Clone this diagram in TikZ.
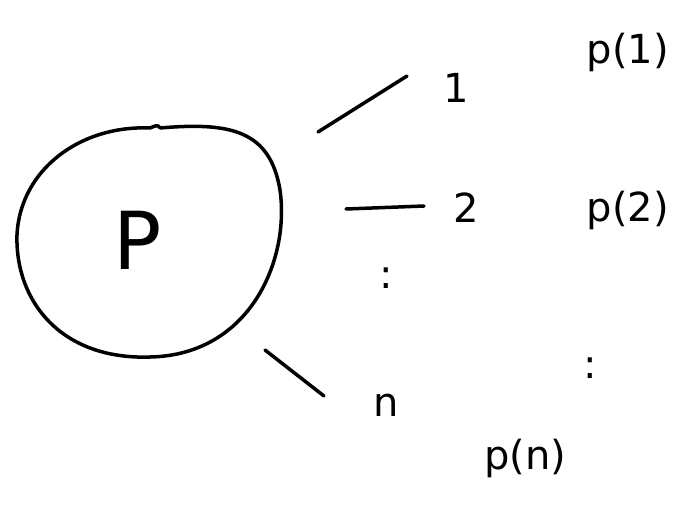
\documentclass[tikz,border=0pt]{standalone}
\usepackage{fontspec}
\setmainfont{DejaVu Sans}
\begin{document}
\begin{tikzpicture}[x=1pt,y=-1pt,
  ink/.style={line width=3.5pt,line cap=round,line join=round,black},
  lbl/.style={inner sep=0pt,font=\fontsize{40}{40}\selectfont},
  big/.style={inner sep=0pt,font=\fontsize{80}{80}\selectfont}]
\useasboundingbox (0,0) rectangle (694,509);
% blob
\draw[ink] (160,128) .. controls (230,122) and (270,130) .. (280,190)
  .. controls (290,260) and (250,355) .. (150,357)
  .. controls (60,360) and (15,300) .. (17,235)
  .. controls (20,170) and (80,125) .. (150,128)
  .. controls (155,126) and (158,124) .. (160,128);
\node[big] (P) at (138,240) {P};
% branches
\coordinate (a1) at (318,132); \coordinate (b1) at (407,76);
\coordinate (a2) at (346,209); \coordinate (b2) at (424,206);
\coordinate (an) at (265,350); \coordinate (bn) at (324,396);
\draw[ink] (a1) -- (b1);
\draw[ink] (a2) -- (b2);
\draw[ink] (an) -- (bn);
\node[lbl] (l1) at (456,88) {1};
\node[lbl] (l2) at (466,208) {2};
\node[lbl] (ldots) at (386,278) {:};
\node[lbl] (ln) at (386,405) {n};
\node[lbl] (p1) at (628,52) {p(1)};
\node[lbl] (p2) at (628,210) {p(2)};
\node[lbl] (pdots) at (590,368) {:};
\node[lbl] (pn) at (525,458) {p(n)};
\end{tikzpicture}
\end{document}
